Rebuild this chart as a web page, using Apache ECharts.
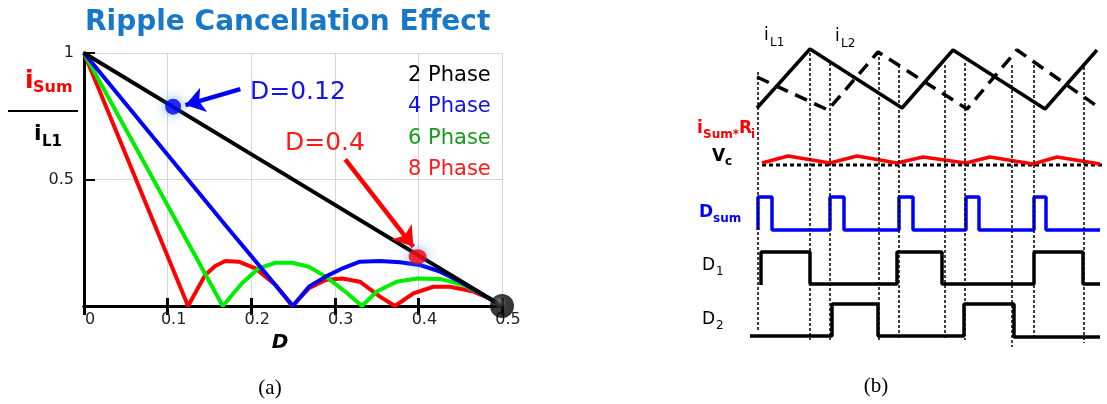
<!DOCTYPE html>
<html><head><meta charset="utf-8">
<script src="https://cdn.jsdelivr.net/npm/echarts@6/dist/echarts.min.js"></script>
<style>html,body{margin:0;padding:0;background:#fff}#c{width:1107px;height:404px}</style>
</head><body><div id="c"></div>
<script>
// ---------- panel (a): ripple cancellation ----------
const phaseNames = ['2 Phase', '4 Phase', '6 Phase', '8 Phase'];
const phase2 = [[0, 1], [0.235, 0.53], [0.5, 0]];
const phase4 = [[0, 1], [0.169, 0.32], [0.25, 0], [0.269, 0.076], [0.289, 0.116], [0.31, 0.15], [0.33, 0.175],
  [0.354, 0.178], [0.378, 0.173], [0.402, 0.162], [0.426, 0.136], [0.45, 0.096], [0.474, 0.05], [0.5, 0]];
const phase6 = [[0, 1], [0.166, 0], [0.189, 0.09], [0.209, 0.149], [0.229, 0.171], [0.249, 0.171], [0.269, 0.155],
  [0.289, 0.116], [0.3125, 0.057], [0.3325, 0], [0.35, 0.057], [0.374, 0.096], [0.398, 0.109], [0.426, 0.107],
  [0.454, 0.083], [0.478, 0.043], [0.5, 0]];
const phase8 = [[0, 1], [0.1245, 0], [0.145, 0.123], [0.157, 0.158], [0.169, 0.178], [0.185, 0.175], [0.205, 0.149],
  [0.229, 0.083], [0.249, 0], [0.269, 0.07], [0.289, 0.103], [0.309, 0.109], [0.33, 0.096], [0.354, 0.037],
  [0.372, 0], [0.394, 0.05], [0.418, 0.076], [0.438, 0.076], [0.466, 0.057], [0.486, 0.028], [0.5, 0]];
const dotD012 = [0.1066, 0.788];
const dotD04 = [0.399, 0.195];
const dotEnd = [0.5, 0];
const arrowBlue = [[0.187, 0.857], [0.1213, 0.794]];
const arrowRed = [[0.3125, 0.58], [0.394, 0.234]];

// ---------- panel (b): waveforms (t = time units, level = signal level) ----------
const iL1 = [[17, 242], [70, 301], [162, 242], [213, 300], [305, 241], [357, 300]];
const iL2 = [[17, 273], [88, 240], [138, 298], [227, 241], [277, 300], [361, 241]];
const ripple = [[22, 187], [48, 194], [90, 187], [117, 194], [157, 187], [183, 193], [226, 187], [250, 193],
  [293, 186], [317, 193], [360, 186]];
const vc = [[22, 185], [362, 185]];
const dsum = [[18, 120], [18, 153], [32, 153], [32, 120], [90, 120], [90, 153], [104, 153], [104, 120],
  [159, 120], [159, 153], [173, 153], [173, 120], [226, 120], [226, 153], [239, 153], [239, 120],
  [294, 120], [294, 153], [306, 153], [306, 120], [360, 120]];
const d1 = [[21, 65], [21, 98], [70, 98], [70, 66], [157, 66], [157, 98], [202, 98], [202, 66],
  [294, 66], [294, 98], [343, 98], [343, 66], [360, 66]];
const d2 = [[10, 14], [92, 14], [92, 46], [138, 46], [138, 14], [224, 14], [224, 46], [274, 46], [274, 13], [360, 13]];
const dropT = [17.5, 70, 90, 138.3, 159, 204.3, 224.3, 271.7, 293.3, 343.3];
const dropTop = [278, 302, 287, 298, 285, 285, 287, 285, 285, 283];
const dropBottom = [20, 10, 10, 10, 10, 10, 10, 3, 10, 7];

const FONT = 'DejaVu Sans';
function T(x, y, text, size, color, o) {
  o = o || {};
  return {
    type: 'text', x: x, y: y, z: 100,
    style: {
      text: text, fill: color, fontSize: size, fontFamily: o.family || FONT,
      fontWeight: o.weight || 'normal', fontStyle: o.style || 'normal',
      textAlign: o.align || 'left', align: o.align || 'left',
      textVerticalAlign: 'middle', verticalAlign: 'middle'
    }
  };
}

const lineCols = ['#000000', '#0000ff', '#00ee00', '#ff0000'];
const textCols = ['#000000', '#1010e6', '#1a9a1a', '#ff1a1a'];
const phaseData = [phase2, phase4, phase6, phase8];

const series = phaseData.map((d, i) => ({
  name: phaseNames[i], type: 'line', xAxisIndex: 0, yAxisIndex: 0, data: d,
  symbol: 'none', z: 3 + (3 - i) * 0.1,
  lineStyle: { color: lineCols[i], width: 4 }, itemStyle: { color: lineCols[i] }
}));
series[0].z = 4;
series.push({
  type: 'line', xAxisIndex: 0, yAxisIndex: 0, data: [], symbol: 'none', z: 5,
  markLine: {
    silent: true, symbol: ['none', 'arrow'], symbolSize: 19, label: { show: false },
    data: [
      [{ coord: arrowBlue[0], lineStyle: { color: '#0000ff', width: 4.5, type: 'solid' } }, { coord: arrowBlue[1] }],
      [{ coord: arrowRed[0], lineStyle: { color: '#ff0000', width: 4.5, type: 'solid' } }, { coord: arrowRed[1] }]
    ]
  }
});
series.push({
  type: 'scatter', xAxisIndex: 0, yAxisIndex: 0, clip: false, z: 6, data: [dotD012],
  symbolSize: 16, itemStyle: { color: '#0000ee', shadowBlur: 12, shadowColor: 'rgba(60,150,255,0.95)' }
});
series.push({
  type: 'scatter', xAxisIndex: 0, yAxisIndex: 0, clip: false, z: 6, data: [dotD04],
  symbolSize: [18, 15], itemStyle: { color: '#ff0000', shadowBlur: 12, shadowColor: 'rgba(60,150,255,0.95)' }
});
series.push({
  type: 'scatter', xAxisIndex: 0, yAxisIndex: 0, clip: false, z: 7, data: [dotEnd],
  symbolSize: 24, itemStyle: { color: { type: 'radial', x: 0.4, y: 0.35, r: 0.65,
    colorStops: [{ offset: 0, color: '#666' }, { offset: 0.45, color: '#0a0a0a' }, { offset: 1, color: '#000' }] } }
});

// panel (b) series
const R = { xAxisIndex: 2, yAxisIndex: 2, symbol: 'none', type: 'line', silent: true };
series.push(Object.assign({}, R, {
  data: [], z: 1,
  markLine: {
    silent: true, symbol: ['none', 'none'], label: { show: false },
    lineStyle: { color: '#000', width: 1.5, type: [3, 2] },
    data: dropT.map((t, i) => [{ coord: [t, dropTop[i]] }, { coord: [t, dropBottom[i]] }])
  }
}));
series.push(Object.assign({}, R, { data: iL1, z: 3, lineStyle: { color: '#000', width: 3.5 } }));
series.push(Object.assign({}, R, { data: iL2, z: 3, lineStyle: { color: '#000', width: 3.5, type: [13, 8] } }));
series.push(Object.assign({}, R, { data: vc, z: 3, lineStyle: { color: '#000', width: 3, type: [4, 3] } }));
series.push(Object.assign({}, R, { data: ripple, z: 4, lineStyle: { color: '#ff0000', width: 3.5 } }));
series.push(Object.assign({}, R, { data: dsum, z: 3, lineStyle: { color: '#0000ff', width: 3.5 } }));
series.push(Object.assign({}, R, { data: d1, z: 3, lineStyle: { color: '#000', width: 3.5 } }));
series.push(Object.assign({}, R, { data: d2, z: 3, lineStyle: { color: '#000', width: 3.5 } }));

const graphics = [
  // y-axis fraction label
  T(25, 81, 'i', 25, '#ff0000', { weight: 'bold' }),
  T(33, 88, 'Sum', 16, '#ff0000', { weight: 'bold' }),
  { type: 'line', shape: { x1: 8, y1: 111, x2: 78, y2: 111 }, style: { stroke: '#000', lineWidth: 2 } },
  T(34, 134, 'i', 22, '#000', { weight: 'bold' }),
  T(42, 142, 'L1', 15, '#000', { weight: 'bold' }),
  // x axis name
  T(280, 343, 'D', 20, '#000', { weight: 'bold', style: 'italic', align: 'center' }),
  // annotations
  T(250, 92, 'D=0.12', 25, '#1414e6'),
  T(285, 143, 'D=0.4', 25, '#ff1a1a'),
  // panel captions
  T(270, 388, '(a)', 21, '#000', { family: 'Liberation Serif', align: 'center' }),
  T(876, 386, '(b)', 21, '#000', { family: 'Liberation Serif', align: 'center' }),
  // panel (b) labels
  T(764, 36, 'i', 17, '#000'),
  T(770, 43, 'L1', 12, '#000'),
  T(835, 37, 'i', 17, '#000'),
  T(841, 44, 'L2', 12, '#000'),
  T(697, 129, 'i', 17, '#ff0000', { weight: 'bold' }),
  T(703, 135, 'Sum*', 12, '#ff0000', { weight: 'bold' }),
  T(739, 129, 'R', 17, '#ff0000', { weight: 'bold' }),
  T(751, 135, 'i', 12, '#ff0000', { weight: 'bold' }),
  T(712, 157, 'V', 17, '#000', { weight: 'bold' }),
  T(725, 162, 'c', 12, '#000', { weight: 'bold' }),
  T(699, 213, 'D', 17, '#0000ff', { weight: 'bold' }),
  T(713, 219, 'sum', 12, '#0000ff', { weight: 'bold' }),
  T(702, 266, 'D', 17, '#000'),
  T(716, 272, '1', 12, '#000'),
  T(702, 320, 'D', 17, '#000'),
  T(716, 326, '2', 12, '#000')
];

const chart = echarts.init(document.getElementById('c'), null, { renderer: 'canvas' });
chart.setOption({
  animation: false,
  textStyle: { fontFamily: FONT },
  title: {
    text: 'Ripple Cancellation Effect', left: 80, top: 4,
    textStyle: { fontFamily: FONT, fontWeight: 'bold', fontSize: 28, color: '#1878c8' }
  },
  legend: {
    data: phaseNames.map((n, i) => ({ name: n, icon: 'none', textStyle: { color: textCols[i] } })),
    orient: 'vertical', left: 403, top: 65, padding: 0, itemWidth: 0, itemHeight: 20, itemGap: 10.5,
    selectedMode: false, textStyle: { fontSize: 21, fontFamily: FONT, lineHeight: 20 }
  },
  grid: [
    { left: 84, top: 53, width: 418, height: 253 },
    { left: 740, top: 30, width: 367, height: 320 }
  ],
  xAxis: [
    { type: 'value', gridIndex: 0, min: 0, max: 0.5, interval: 0.1, position: 'bottom',
      axisLine: { lineStyle: { color: '#000', width: 3 } },
      axisTick: { inside: true, length: 8, lineStyle: { color: '#000', width: 3 } },
      axisLabel: { fontSize: 16, color: '#222', margin: 6, padding: [0, 0, 0, 12] },
      splitLine: { show: true, lineStyle: { color: '#d6d6d6', width: 1 } } },
    { type: 'value', gridIndex: 0, min: 0, max: 0.5, interval: 0.1, position: 'top',
      axisLine: { lineStyle: { color: '#000', width: 3 } },
      axisTick: { inside: true, length: 9, lineStyle: { color: '#000', width: 3 } },
      axisLabel: { show: false }, splitLine: { show: false } },
    { type: 'value', gridIndex: 1, min: 0, max: 367, show: false }
  ],
  yAxis: [
    { type: 'value', gridIndex: 0, min: 0, max: 1, interval: 0.5, position: 'left',
      axisLine: { show: true, lineStyle: { color: '#000', width: 3 } },
      axisTick: { show: true, inside: true, length: 11, lineStyle: { color: '#000', width: 2 } },
      axisLabel: { fontSize: 16, color: '#222', margin: 10, showMinLabel: false },
      splitLine: { show: true, lineStyle: { color: '#d6d6d6', width: 1 } } },
    { type: 'value', gridIndex: 0, min: 0, max: 1, interval: 0.5, position: 'right',
      axisLine: { show: true, lineStyle: { color: '#000', width: 3 } },
      axisTick: { show: false }, axisLabel: { show: false }, splitLine: { show: false } },
    { type: 'value', gridIndex: 1, min: 0, max: 320, show: false }
  ],
  series: series,
  graphic: graphics
});
</script></body></html>
